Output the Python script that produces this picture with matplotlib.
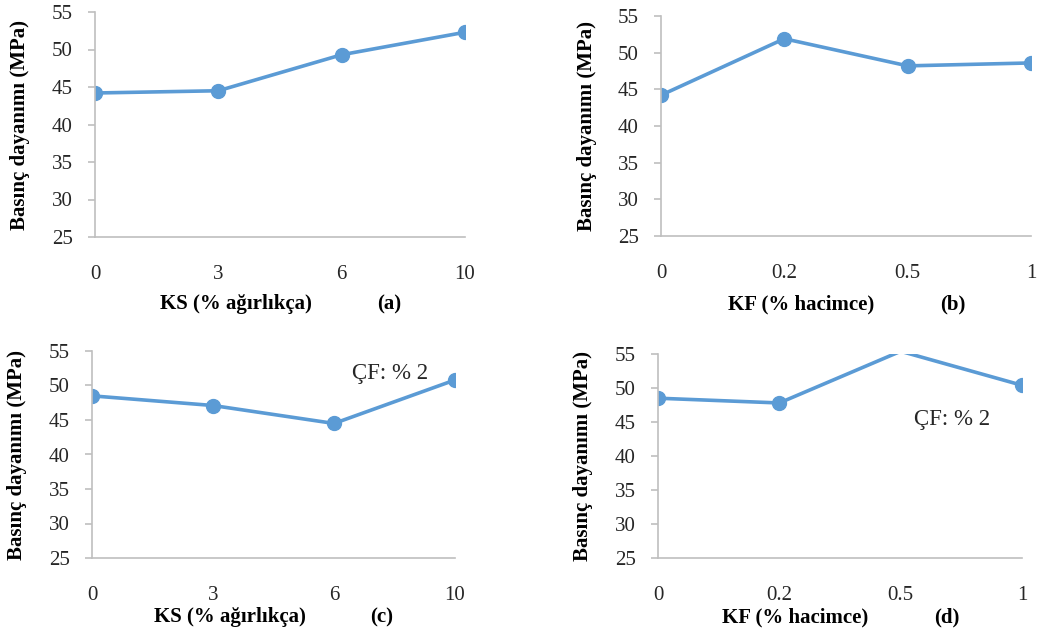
import numpy as np
import matplotlib
matplotlib.use('Agg')
import matplotlib.pyplot as plt

plt.rcParams['font.family'] = ['Liberation Serif', 'DejaVu Serif']

W, H = 1041, 632

ks_labels = ['0', '3', '6', '10']
kf_labels = ['0', '0.2', '0.5', '1']

strength_a = [44.2, 44.5, 49.3, 52.3]
strength_b = [44.2, 51.9, 48.2, 48.6]
strength_c = [48.5, 47.1, 44.5, 50.8]
strength_d = [48.5, 47.8, 55.4, 50.4]

ylab = 'Basınç dayanımı (MPa)'
ks_title = 'KS (% ağırlıkça)'
kf_title = 'KF (% hacimce)'
note = 'ÇF: % 2'

line_col = '#5B9BD5'
axis_col = '#BFBFBF'
text_col = '#262626'

fig = plt.figure(figsize=(W / 100, H / 100), dpi=100)


def px(x, y):
    # pixel (from top-left) -> figure fraction
    return x / W, 1 - y / H


def make_panel(box, labels, vals, xtitle, tag, ylab_x, title_y, title_x, tag_x):
    l, t, r, b = box
    ax = fig.add_axes([l / W, 1 - b / H, (r - l) / W, (b - t) / H])
    x = np.arange(len(labels))
    ax.plot(x, vals, color=line_col, lw=2.6)
    # excel drops markers that fall outside the plot area
    ax.plot(x, np.ma.masked_greater(vals, 55), ls='none', marker='o', ms=10,
            color=line_col)
    ax.set_xlim(0, len(labels) - 1)
    ax.set_ylim(25, 55)
    ax.set_yticks(np.arange(25, 56, 5))
    ax.set_xticks(x)
    ax.set_xticklabels(labels)
    for s in ['top', 'right']:
        ax.spines[s].set_visible(False)
    for s in ['left', 'bottom']:
        ax.spines[s].set_color(axis_col)
        ax.spines[s].set_linewidth(1.2)
    ax.tick_params(axis='y', length=5, width=1.2, color=axis_col, pad=11,
                   labelsize=15, labelcolor=text_col)
    ax.tick_params(axis='x', length=0, pad=20, labelsize=15, labelcolor=text_col)
    fig.text(*px(ylab_x, (t + b) / 2), ylab, rotation=90, fontsize=15,
             fontweight='bold', ha='center', va='center', color='black')
    fig.text(*px(title_x, title_y), xtitle, fontsize=15, fontweight='bold',
             ha='center', va='center', color='black')
    fig.text(*px(tag_x, title_y), tag, fontsize=15, fontweight='bold',
             ha='center', va='center', color='black')
    return ax


ax_a = make_panel((95, 12, 465, 237), ks_labels, strength_a, ks_title, '(a)', 20, 304, 236, 389)
ax_b = make_panel((661, 16, 1031, 236), kf_labels, strength_b, kf_title, '(b)', 587, 304, 801, 953)
ax_c = make_panel((92, 351, 455, 558), ks_labels, strength_c, ks_title, '(c)', 17, 617, 230, 382)
ax_d = make_panel((658, 354, 1022, 558), kf_labels, strength_d, kf_title, '(d)', 583, 617, 795, 947)

fig.text(*px(390, 373), note, fontsize=16.5, ha='center', va='center', color=text_col)
fig.text(*px(952, 420), note, fontsize=16.5, ha='center', va='center', color=text_col)

fig.savefig('out.png', dpi=100)
